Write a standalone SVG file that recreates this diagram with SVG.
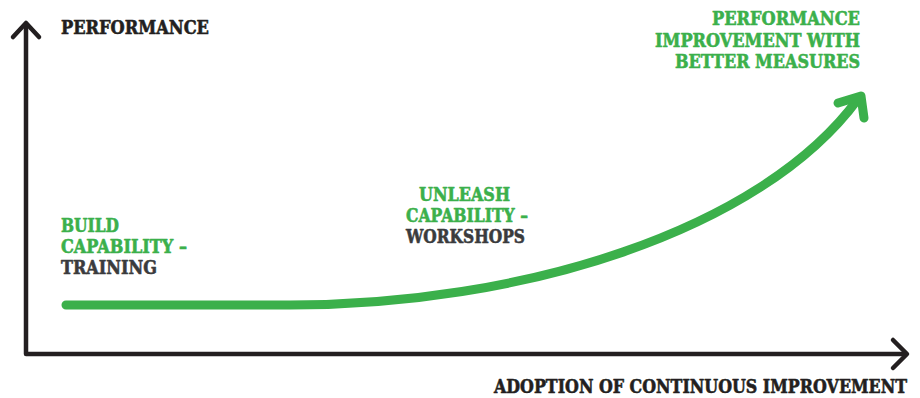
<svg xmlns="http://www.w3.org/2000/svg" width="920" height="398" viewBox="0 0 920 398">
  <style>
    .t { font-family: "DejaVu Serif", "Liberation Serif", serif; font-weight: bold; font-size: 18px; stroke-width: 0.6; stroke-linejoin: round; }
    .dark { fill: #231f20; stroke: #231f20; }
    .grey { fill: #3a3b3d; stroke: #3a3b3d; }
    .green { fill: #3bb04b; stroke: #3bb04b; }
    .axis { fill: none; stroke: #231f20; stroke-width: 4.5; stroke-linecap: round; stroke-linejoin: round; }
    .growth { fill: none; stroke: #3bb04b; stroke-width: 9; stroke-linecap: round; stroke-linejoin: round; }
  </style>

  <g id="connectors">
    <!-- axes -->
    <path class="axis" d="M26,24 V354 H906"/>
    <path class="axis" d="M13,37 L26,23 L39,37"/>
    <path class="axis" d="M893,340 L907,354 L893,368"/>
    <!-- growth curve -->
    <path class="growth" d="M66,305 L290,305 C520,305 760,232 858,99"/>
    <path class="growth" d="M838,103 L861,96 L864,118"/>
  </g>

  <g id="y-axis-label">
    <text class="t dark" x="61" y="34" textLength="148" lengthAdjust="spacingAndGlyphs">PERFORMANCE</text>
  </g>

  <g id="x-axis-label">
    <text class="t dark" x="494" y="393" textLength="413" lengthAdjust="spacingAndGlyphs">ADOPTION OF CONTINUOUS IMPROVEMENT</text>
  </g>

  <g id="build">
    <text class="t green" x="61" y="232" textLength="58" lengthAdjust="spacingAndGlyphs">BUILD</text>
    <text class="t green" x="61" y="253" textLength="126" lengthAdjust="spacingAndGlyphs">CAPABILITY –</text>
    <text class="t grey" x="61" y="274" textLength="96" lengthAdjust="spacingAndGlyphs">TRAINING</text>
  </g>

  <g id="unleash">
    <text class="t green" x="419" y="201" textLength="91" lengthAdjust="spacingAndGlyphs">UNLEASH</text>
    <text class="t green" x="406" y="222" textLength="122" lengthAdjust="spacingAndGlyphs">CAPABILITY –</text>
    <text class="t grey" x="406" y="243" textLength="119" lengthAdjust="spacingAndGlyphs">WORKSHOPS</text>
  </g>

  <g id="performance-improvement">
    <text class="t green" x="712" y="25" textLength="148" lengthAdjust="spacingAndGlyphs">PERFORMANCE</text>
    <text class="t green" x="655" y="47" textLength="205" lengthAdjust="spacingAndGlyphs">IMPROVEMENT WITH</text>
    <text class="t green" x="675" y="68" textLength="185" lengthAdjust="spacingAndGlyphs">BETTER MEASURES</text>
  </g>
</svg>
